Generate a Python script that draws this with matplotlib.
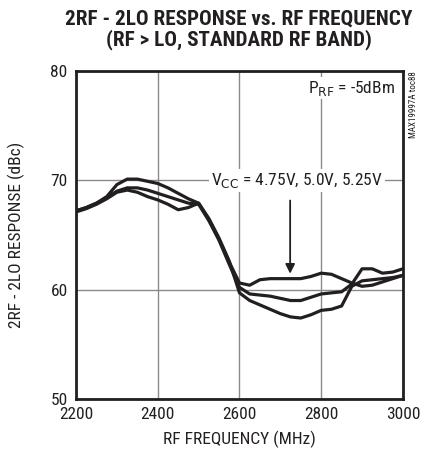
import matplotlib
matplotlib.use("Agg")
import matplotlib.pyplot as plt

freq = list(range(2200, 3001, 25))

vcc_a = [67.2, 67.5, 67.9, 68.5, 69.6, 70.1, 70.1, 69.9, 69.7, 69.3, 68.8, 68.3, 67.9,
         66.4, 64.6, 62.5, 60.6, 60.4, 60.9, 61.0, 61.0, 61.0, 61.0, 61.2, 61.5, 61.4,
         61.0, 60.6, 60.3, 60.4, 60.7, 61.0, 61.3]
vcc_b = [67.2, 67.5, 67.9, 68.4, 69.0, 69.3, 69.3, 69.1, 68.8, 68.5, 68.2, 67.9, 67.8,
         66.3, 64.5, 62.3, 60.2, 59.6, 59.5, 59.4, 59.2, 59.0, 59.0, 59.3, 59.6, 59.7,
         59.8, 60.5, 61.9, 61.9, 61.5, 61.6, 61.9]
vcc_c = [67.1, 67.4, 67.8, 68.3, 68.9, 69.1, 68.9, 68.5, 68.2, 67.8, 67.3, 67.5, 67.9,
         66.5, 64.7, 62.6, 59.7, 59.0, 58.6, 58.2, 57.8, 57.5, 57.4, 57.7, 58.1, 58.2,
         58.5, 60.3, 60.8, 60.9, 61.0, 61.1, 61.3]

x_ticks = [2200, 2400, 2600, 2800, 3000]
y_ticks = [50, 60, 70, 80]

FAMILY = ["Liberation Sans Narrow", "Roboto Condensed", "DejaVu Sans"]
plt.rcParams["font.family"] = FAMILY
INK = "#231f20"

fig = plt.figure(figsize=(4.25, 4.57), dpi=100)
ax = fig.add_axes([0.179, 0.127, 0.769, 0.718])

for series in (vcc_a, vcc_b, vcc_c):
    ax.plot(freq, series, color=INK, linewidth=2.3, solid_joinstyle="round")

ax.set_xlim(2200, 3000)
ax.set_ylim(50, 80)
ax.set_xticks(x_ticks)
ax.set_yticks(y_ticks)
ax.tick_params(length=0, labelsize=12.5, pad=6, colors=INK)
ax.grid(True, color="#8a8a8a", linewidth=1.0)
ax.set_axisbelow(True)
for sp in ax.spines.values():
    sp.set_linewidth(2.0)
    sp.set_color(INK)

ax.set_xlabel("RF FREQUENCY (MHz)", fontsize=12.5, color=INK, labelpad=6)
ax.set_ylabel("2RF - 2LO RESPONSE (dBc)", fontsize=12.5, color=INK, labelpad=18)

fig.suptitle("2RF - 2LO RESPONSE vs. RF FREQUENCY\n(RF > LO, STANDARD RF BAND)",
             x=0.562, y=0.98, fontsize=15.2, fontweight="bold", linespacing=1.1, color=INK)

ax.text(2740, 70, r"V$_{\mathrm{CC}}$ = 4.75V, 5.0V, 5.25V", ha="center", va="center",
        fontsize=12.5, color=INK,
        bbox=dict(facecolor="white", edgecolor="none", pad=1.5))
ax.annotate("", xy=(2724, 61.2), xytext=(2724, 68.4),
            arrowprops=dict(arrowstyle="-|>", color=INK, lw=1.3, mutation_scale=14))
ax.text(2980, 78.4, r"P$_{\mathrm{RF}}$ = -5dBm", ha="right", va="center",
        fontsize=12.5, color=INK,
        bbox=dict(facecolor="white", edgecolor="none", pad=1.0))
fig.text(0.972, 0.845, "MAX19997A toc88", rotation=90, ha="center", va="top",
         fontsize=6.5, color=INK)

fig.savefig("out.png", dpi=100)
